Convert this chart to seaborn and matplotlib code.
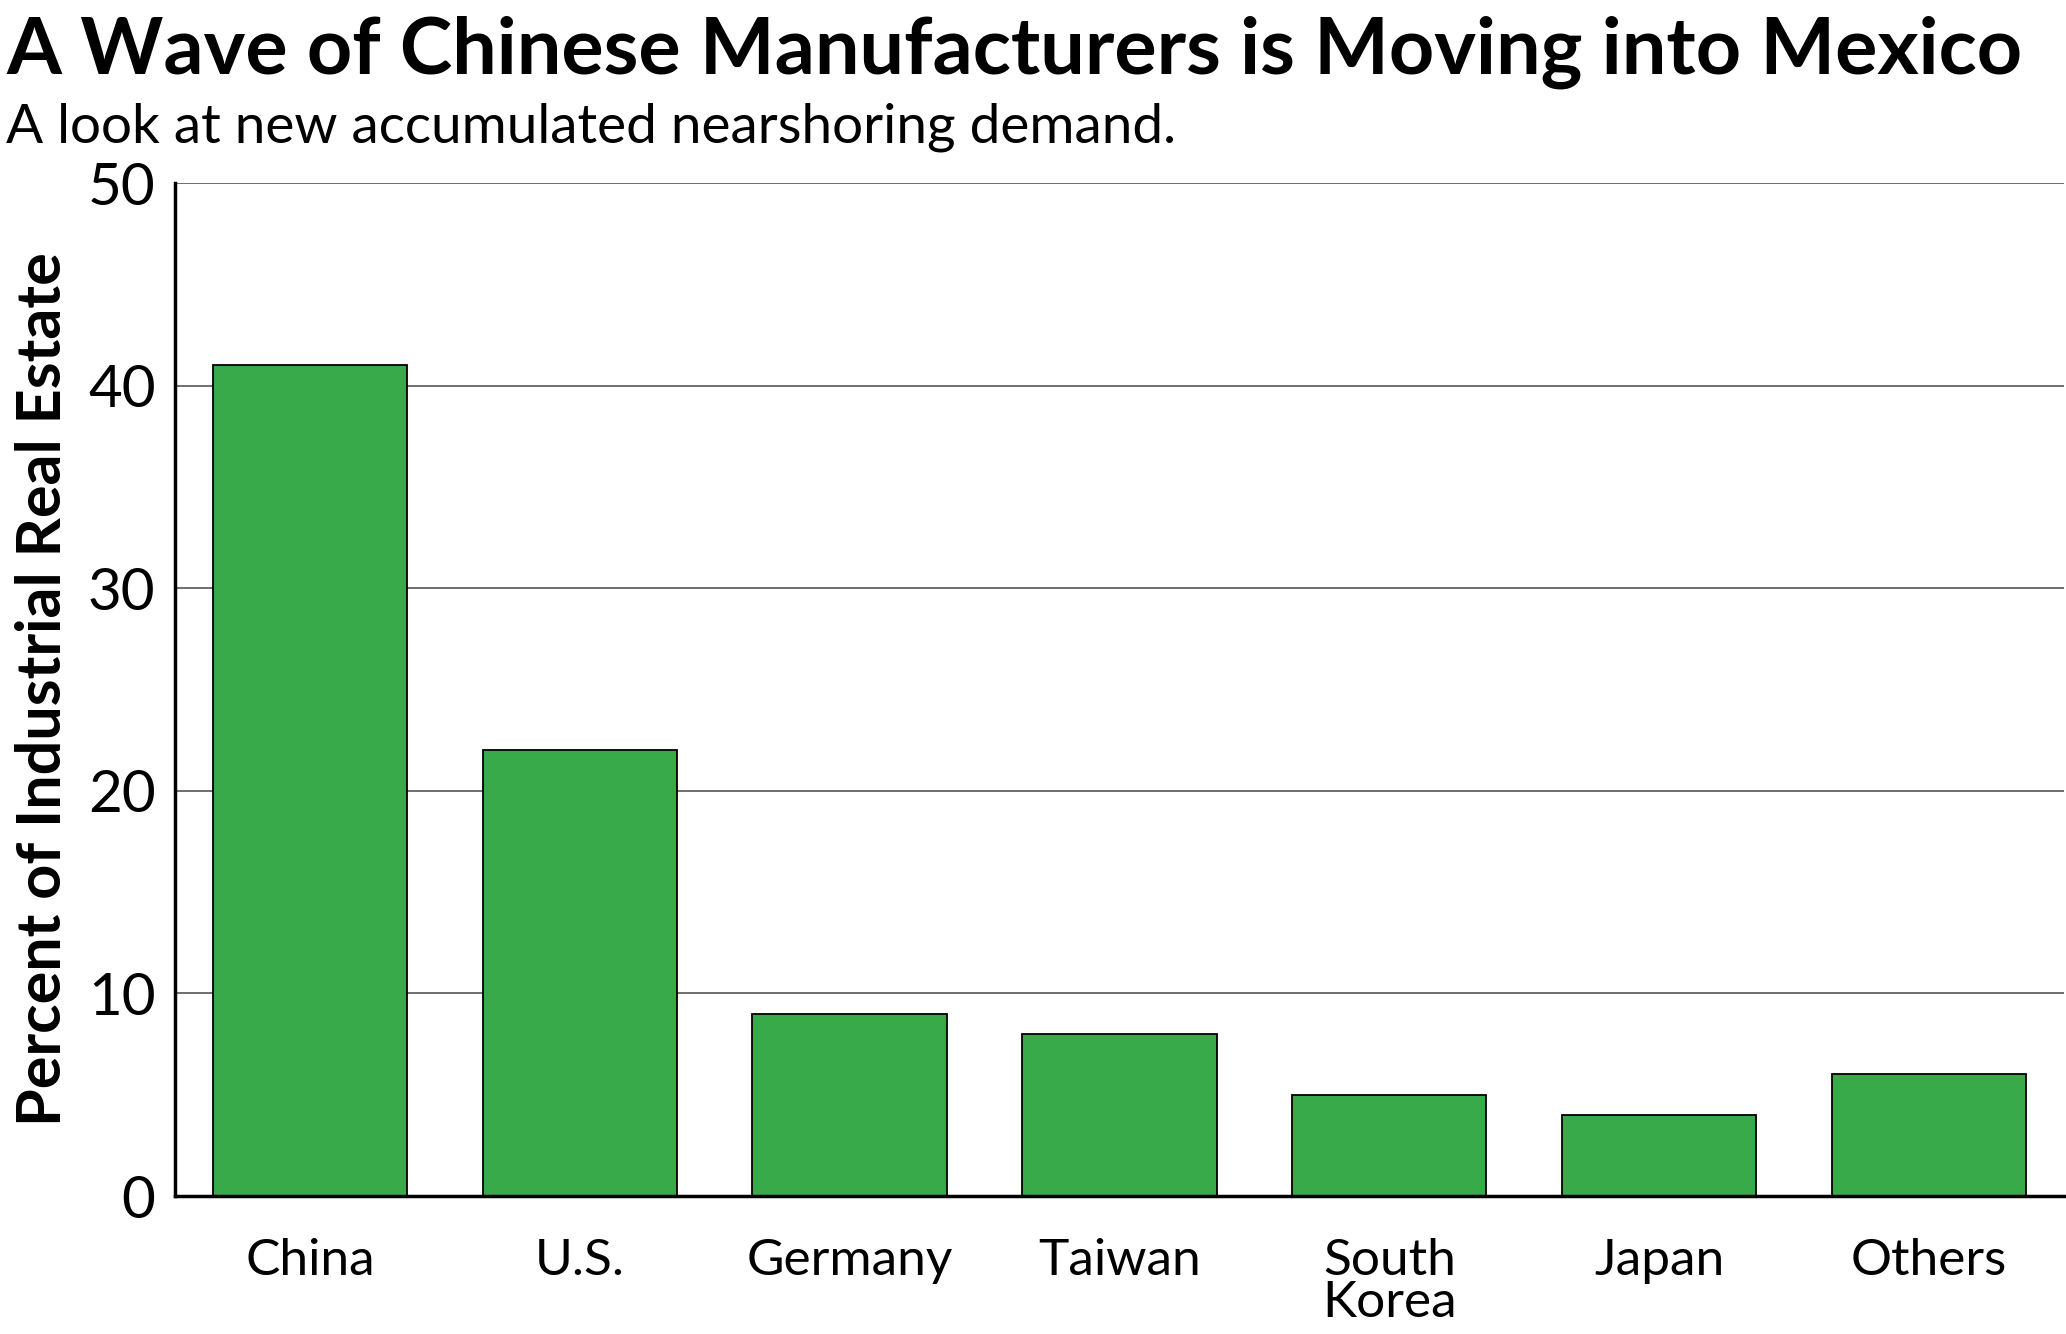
import matplotlib
matplotlib.use("Agg")
import matplotlib.pyplot as plt
import seaborn as sns
import pandas as pd

# data
countries = ["China", "U.S.", "Germany", "Taiwan", "South\nKorea", "Japan", "Others"]
share = [41, 22, 9, 8, 5, 4, 6]
y_ticks = [0, 10, 20, 30, 40, 50]

title = "A Wave of Chinese Manufacturers is Moving into Mexico"
subtitle = "A look at new accumulated nearshoring demand."
ylabel = "Percent of Industrial Real Estate"

bar_green = "#39AA4A"

sns.set_style("white")
plt.rcParams["font.family"] = ["Lato", "DejaVu Sans"]
plt.rcParams["text.color"] = "black"
plt.rcParams["axes.labelcolor"] = "black"
plt.rcParams["xtick.color"] = "black"
plt.rcParams["ytick.color"] = "black"

df = pd.DataFrame({"country": countries, "share": share})

fig = plt.figure(figsize=(20.66, 13.34), dpi=100)
ax = fig.add_axes([0.0847, 0.1034, 0.9143, 0.7594])

ax.grid(axis="y", color="#555555", linewidth=1.2)
ax.set_axisbelow(True)

sns.barplot(data=df, x="country", y="share", color=bar_green, saturation=1,
            edgecolor="black", linewidth=1.3, width=0.72, ax=ax)

ax.set_ylim(0, 50)
ax.set_xlim(-0.5, len(countries) - 0.5)
ax.set_yticks(y_ticks)
ax.set_xlabel("")
ax.set_ylabel(ylabel, fontsize=44, fontweight="bold", labelpad=12)

for side in ["top", "right"]:
    ax.spines[side].set_visible(False)
for side in ["left", "bottom"]:
    ax.spines[side].set_color("black")
    ax.spines[side].set_linewidth(2.5)

ax.tick_params(axis="y", length=0, pad=14, labelsize=42)
ax.tick_params(axis="x", length=17, width=1.5, pad=13, labelsize=37)
for lbl in ax.get_xticklabels():
    lbl.set_linespacing(0.9)

fig.text(0.003, 0.945, title, fontsize=57, fontweight="bold", va="baseline", ha="left")
fig.text(0.003, 0.893, subtitle, fontsize=39.5, va="baseline", ha="left")

fig.savefig("out.png", dpi=100)
